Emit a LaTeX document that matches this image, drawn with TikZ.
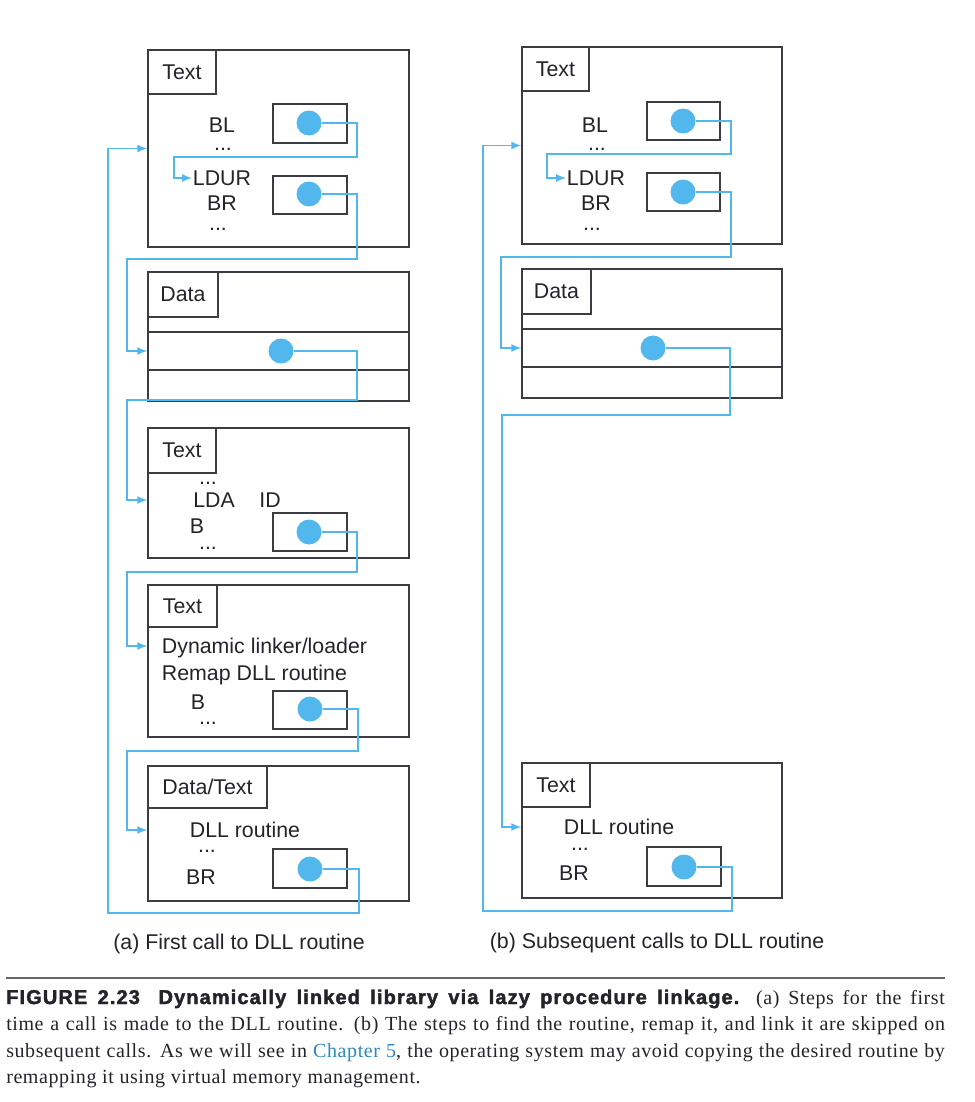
\documentclass[tikz,border=0pt]{standalone}
\usepackage{fontspec}
\setmainfont{Liberation Sans}
\newfontfamily\capfont[LetterSpace=3]{Liberation Serif}
\newfontfamily\headfont[LetterSpace=5.5, FakeBold=2]{Liberation Sans}
\usepackage{tikz}
\usetikzlibrary{arrows.meta, fit, positioning}

\definecolor{linkblue}{RGB}{82,183,236}
\definecolor{boxgray}{RGB}{60,60,66}
\definecolor{inkgray}{RGB}{35,35,42}
\definecolor{chapblue}{RGB}{45,135,185}
\definecolor{rulegray}{RGB}{100,100,106}
\newcommand{\lblsize}{\fontsize{16}{19}\selectfont}

\begin{document}
\begin{tikzpicture}[x=0.75pt, y=-0.75pt,
	seg/.style={draw=boxgray, line width=1.1pt, inner sep=0pt},
	dot/.style={circle, fill=linkblue, minimum size=18.75pt, inner sep=0pt},
	lbl/.style={font=\lblsize, text=inkgray, inner sep=0.5pt, text depth=0pt},
	link/.style={draw=linkblue, line width=1.1pt, -{Latex[length=7.5pt,width=6pt]}}]
	\useasboundingbox (0,0) rectangle (974,1102);
	
	% (a) Text segment with the calls
	\node[seg, fit={(148,50) (409,247)}] (a1) {};
	\node[seg, fit={(148,50) (216,94)}] (a1t) {};
	\node[lbl] at (a1t) {Text};
	\node[seg, fit={(273,104) (347,143)}] (a1s1) {};
	\node[seg, fit={(273,176) (347,214)}] (a1s2) {};
	\node[dot] (a1d1) at (309,123) {};
	\node[dot] (a1d2) at (309,194) {};
	\node[lbl] (a1bl) at (222,125) {BL};
	\node[lbl] (a1dots) at (223,149) {...};
	\node[lbl] (a1ldur) at (222,178) {LDUR};
	\node[lbl] (a1br) at (222,203) {BR};
	\node[lbl] (a1dots2) at (218,229) {...};
	
	% (a) Data segment
	\node[seg, fit={(148,272) (409,401)}] (a2) {};
	\node[seg, fit={(148,272) (218,317)}] (a2t) {};
	\node[lbl] at (a2t) {Data};
	\node[seg, fit={(148,332) (409,370)}] (a2r) {};
	\node[dot] (a2d) at (281,351) {};
	
	% (a) Text segment with the stub
	\node[seg, fit={(148,428) (409,558)}] (a3) {};
	\node[seg, fit={(148,428) (216,473)}] (a3t) {};
	\node[lbl] at (a3t) {Text};
	\node[seg, fit={(273,513) (347,551)}] (a3s) {};
	\node[dot] (a3d) at (309,532) {};
	\node[lbl] (a3dots) at (208,483) {...};
	\node[lbl] (a3lda) at (214,500) {LDA};
	\node[lbl] (a3id) at (270,500) {ID};
	\node[lbl] (a3b) at (197,526) {B};
	\node[lbl] (a3dots2) at (208,548) {...};
	
	% (a) Dynamic linker/loader
	\node[seg, fit={(148,585) (409,737)}] (a4) {};
	\node[seg, fit={(148,585) (217,627)}] (a4t) {};
	\node[lbl] at (a4t) {Text};
	\node[seg, fit={(273,691) (347,729)}] (a4s) {};
	\node[dot] (a4d) at (310,709) {};
	\node[lbl, anchor=west] (a4dyn) at (161,646) {Dynamic linker/loader};
	\node[lbl, anchor=west] (a4remap) at (161,673) {Remap DLL routine};
	\node[lbl] (a4b) at (198,702) {B};
	\node[lbl] (a4dots) at (208,723) {...};
	
	% (a) DLL routine
	\node[seg, fit={(148,766) (409,901)}] (a5) {};
	\node[seg, fit={(148,766) (267,808)}] (a5t) {};
	\node[lbl] at (a5t) {Data/Text};
	\node[seg, fit={(273,849) (347,888)}] (a5s) {};
	\node[dot] (a5d) at (310,869) {};
	\node[lbl] (a5dll) at (245,830) {DLL routine};
	\node[lbl] (a5dots) at (207,851) {...};
	\node[lbl] (a5br) at (201,877) {BR};
	
	\coordinate (a3in) at (a3.west |- a3lda);
	\coordinate (a4in) at (a4.west |- a4dyn);
	\coordinate (a5in) at (a5.west |- a5dll);
	
	% (a) links
	\draw[link] (a1d1) -- (357,123) |- (174,157) |- (a1ldur);
	\draw[link] (a1d2) -- (357,194) |- (127,259) |- (a2r);
	\draw[link] (a2d) -- (357,351) |- (127,400) |- (a3in);
	\draw[link] (a3d) -- (357,532) |- (127,572) |- (a4in);
	\draw[link] (a4d) -- (358,709) |- (127,751) |- (a5in);
	\draw[link] (a5d) -- (359,869) |- (108,913) |- (a1);
	
	\node[lbl] (acap) at (239,942) {(a) First call to DLL routine};
	
	% (b) Text segment with the calls
	\node[seg, fit={(522,47) (782,244)}] (b1) {};
	\node[seg, fit={(522,47) (589,91)}] (b1t) {};
	\node[lbl] at (b1t) {Text};
	\node[seg, fit={(647,102) (720,140)}] (b1s1) {};
	\node[seg, fit={(647,173) (720,211)}] (b1s2) {};
	\node[dot] (b1d1) at (683,121) {};
	\node[dot] (b1d2) at (683,192) {};
	\node[lbl] (b1bl) at (595,125) {BL};
	\node[lbl] (b1dots) at (597,149) {...};
	\node[lbl] (b1ldur) at (596,178) {LDUR};
	\node[lbl] (b1br) at (596,203) {BR};
	\node[lbl] (b1dots2) at (592,229) {...};
	
	% (b) Data segment
	\node[seg, fit={(522,269) (782,398)}] (b2) {};
	\node[seg, fit={(522,269) (591,314)}] (b2t) {};
	\node[lbl] at (b2t) {Data};
	\node[seg, fit={(522,329) (782,367)}] (b2r) {};
	\node[dot] (b2d) at (653,348) {};
	
	% (b) DLL routine
	\node[seg, fit={(522,763) (782,898)}] (b3) {};
	\node[seg, fit={(522,763) (590,807)}] (b3t) {};
	\node[lbl] at (b3t) {Text};
	\node[seg, fit={(647,847) (721,886)}] (b3s) {};
	\node[dot] (b3d) at (684,867) {};
	\node[lbl] (b3dll) at (619,827) {DLL routine};
	\node[lbl] (b3dots) at (580,849) {...};
	\node[lbl] (b3br) at (574,873) {BR};
	
	\coordinate (b3in) at (b3.west |- b3dll);
	
	% (b) links
	\draw[link] (b1d1) -- (731,121) |- (547,154) |- (b1ldur);
	\draw[link] (b1d2) -- (731,192) |- (501,257) |- (b2r);
	\draw[link] (b2d) -- (730,348) |- (502,415) |- (b3in);
	\draw[link] (b3d) -- (732,867) |- (483,911) |- (b1);
	
	\node[lbl] (bcap) at (657,941) {(b) Subsequent calls to DLL routine};
	
	% Figure caption
	\draw[rulegray, line width=1.5pt] (6,978) -- (945,978);
	\node[anchor=base west, text width=704pt, inner sep=0pt, align=justify, text=inkgray,
		font=\capfont\fontsize{15}{19.9}\selectfont] (figcap) at (6,1004)
		{{\headfont\bfseries\fontsize{15}{19.9}\selectfont FIGURE 2.23\hspace{14pt}Dynamically linked library via lazy procedure linkage.} (a)~Steps for the first\linebreak
		time a call is made to the DLL routine. (b) The steps to find the routine, remap it, and link it are skipped on\linebreak
		subsequent calls. As we will see in \textcolor{chapblue}{Chapter 5}, the operating system may avoid copying the desired routine by\linebreak
		remapping it using virtual memory management.};
\end{tikzpicture}
\end{document}
